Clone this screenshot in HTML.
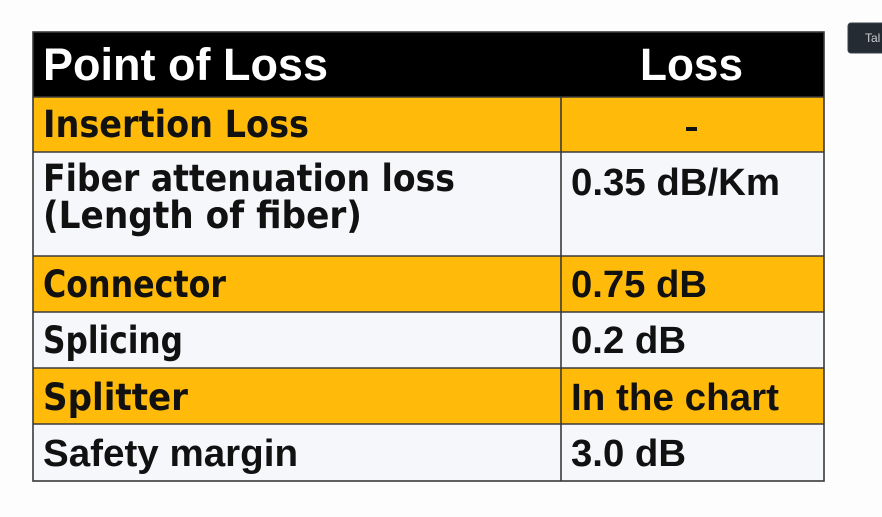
<!DOCTYPE html>
<html>
<head>
<meta charset="utf-8">
<style>
html,body{margin:0;padding:0;background:#fdfdfd;}
body{width:882px;height:517px;overflow:hidden;}
svg{display:block;}
.h{font-family:"Liberation Sans",Arial,sans-serif;font-weight:bold;fill:#fff;font-size:45px;}
.c{font-family:"DejaVu Sans","Liberation Sans",sans-serif;font-weight:bold;fill:#111;font-size:37px;}
.a{font-family:"Liberation Sans",Arial,sans-serif;font-weight:bold;fill:#111;font-size:38px;}
</style>
</head>
<body>
<svg width="882" height="517" viewBox="0 0 882 517" xmlns="http://www.w3.org/2000/svg">
  <rect x="0" y="0" width="882" height="517" fill="#fdfdfd"/>
  <!-- header -->
  <rect x="33" y="32" width="791" height="65" fill="#000"/>
  <!-- rows -->
  <rect x="33" y="97" width="791" height="55" fill="#ffba0a"/>
  <rect x="33" y="152" width="791" height="104" fill="#f6f7fb"/>
  <rect x="33" y="256" width="791" height="56" fill="#ffba0a"/>
  <rect x="33" y="312" width="791" height="56" fill="#f6f7fb"/>
  <rect x="33" y="368" width="791" height="56" fill="#ffba0a"/>
  <rect x="33" y="424" width="791" height="57" fill="#f6f7fb"/>
  <!-- grid lines -->
  <g stroke="#3a3a3a" stroke-width="1.6" fill="none">
    <rect x="33" y="32" width="791" height="449"/>
    <line x1="33" y1="97" x2="824" y2="97"/>
    <line x1="33" y1="152" x2="824" y2="152"/>
    <line x1="33" y1="256" x2="824" y2="256"/>
    <line x1="33" y1="312" x2="824" y2="312"/>
    <line x1="33" y1="368" x2="824" y2="368"/>
    <line x1="33" y1="424" x2="824" y2="424"/>
    <line x1="561" y1="97" x2="561" y2="481"/>
  </g>
  <!-- header text -->
  <text class="h" x="43" y="80" textLength="285" lengthAdjust="spacingAndGlyphs">Point of Loss</text>
  <text class="h" x="640" y="80" textLength="103" lengthAdjust="spacingAndGlyphs">Loss</text>
  <!-- left column -->
  <text class="c" x="43" y="137" textLength="266" lengthAdjust="spacingAndGlyphs">Insertion Loss</text>
  <text class="c" x="43" y="191" textLength="412" lengthAdjust="spacingAndGlyphs">Fiber attenuation loss</text>
  <text class="c" x="43" y="228" textLength="319" lengthAdjust="spacingAndGlyphs">(Length of fiber)</text>
  <text class="c" x="43" y="297" textLength="183" lengthAdjust="spacingAndGlyphs">Connector</text>
  <text class="c" x="43" y="353" textLength="140" lengthAdjust="spacingAndGlyphs">Splicing</text>
  <text class="c" x="43" y="410" textLength="145" lengthAdjust="spacingAndGlyphs">Splitter</text>
  <text class="a" x="43" y="466" textLength="255" lengthAdjust="spacingAndGlyphs">Safety margin</text>
  <!-- right column -->
  <rect x="686" y="127" width="11" height="4" fill="#111"/>
  <text class="a" x="571" y="195" textLength="209" lengthAdjust="spacingAndGlyphs">0.35 dB/Km</text>
  <text class="a" x="571" y="297" textLength="136" lengthAdjust="spacingAndGlyphs">0.75 dB</text>
  <text class="a" x="571" y="353" textLength="115" lengthAdjust="spacingAndGlyphs">0.2 dB</text>
  <text class="a" x="571" y="410" textLength="208" lengthAdjust="spacingAndGlyphs">In the chart</text>
  <text class="a" x="571" y="466" textLength="115" lengthAdjust="spacingAndGlyphs">3.0 dB</text>
  <!-- top-right button -->
  <rect x="848" y="23" width="44" height="30" rx="3" fill="#252b33" stroke="#3a414a" stroke-width="1"/>
  <text x="865" y="42" font-family="Liberation Sans, Arial, sans-serif" font-size="12" fill="#c9ced4">Tal</text>
</svg>
</body>
</html>
